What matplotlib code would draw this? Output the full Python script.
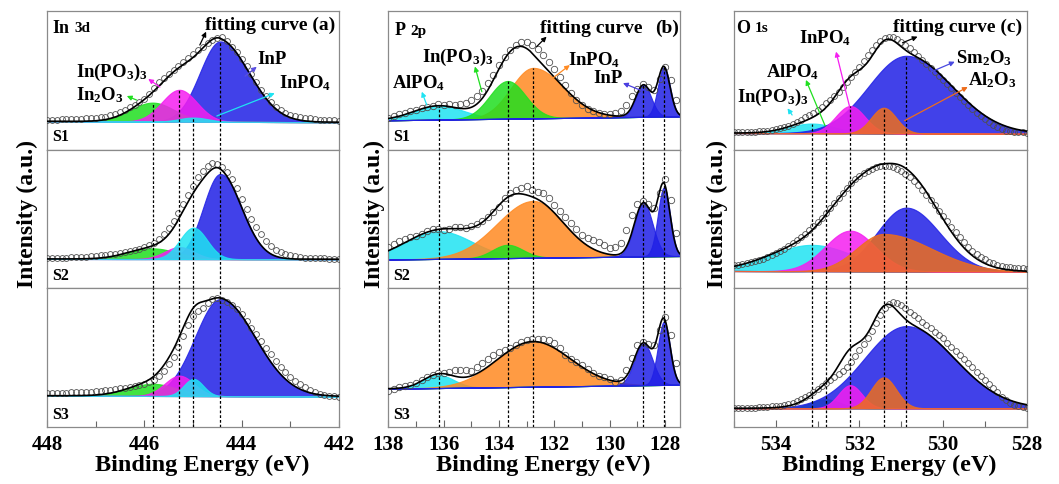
import numpy as np
import matplotlib.pyplot as plt
from matplotlib.ticker import MultipleLocator

plt.rcParams["font.family"] = ["Liberation Serif", "DejaVu Serif"]
plt.rcParams["font.weight"] = "bold"
plt.rcParams["mathtext.fontset"] = "custom"
plt.rcParams["mathtext.rm"] = "Liberation Serif:bold"
plt.rcParams["mathtext.it"] = "Liberation Serif:italic:bold"
plt.rcParams["mathtext.bf"] = "Liberation Serif:bold"
plt.rcParams["mathtext.default"] = "rm"

samples = ["S1", "S2", "S3"]

# ---------------- (a) In 3d ----------------
in3d_energy = np.round(np.arange(448.0, 441.95, -0.1), 2)
in3d_meas = {
    "S1": [.217, .217, .217, .218, .22, .221, .222, .223, .225, .227,
           .23, .234, .239, .247, .258, .271, .287, .305, .324, .345,
           .367, .405, .447, .487, .52, .548, .572, .602, .633, .663,
           .693, .718, .741, .767, .79, .806, .814, .785, .741, .702,
           .657, .603, .548, .489, .432, .385, .343, .31, .283, .264,
           .251, .242, .235, .229, .225, .221, .217, .216, .215, .212, .21],
    "S2": [.219, .219, .219, .22, .222, .223, .225, .227, .229, .231,
           .234, .238, .242, .246, .251, .257, .263, .269, .275, .285,
           .297, .31, .328, .355, .389, .435, .486, .545, .606, .675,
           .739, .8, .848, .882, .901, .898, .877, .84, .788, .72,
           .643, .57, .498, .44, .389, .342, .304, .28, .261, .247,
           .237, .23, .225, .221, .219, .218, .217, .216, .215, .215, .215],
    "S3": [.245, .245, .245, .246, .248, .249, .25, .251, .252, .254,
           .257, .26, .264, .269, .274, .278, .283, .289, .295, .303,
           .312, .322, .336, .365, .407, .452, .502, .575, .657, .735,
           .8, .835, .859, .895, .926, .93, .919, .903, .88, .85,
           .812, .766, .717, .669, .621, .573, .526, .478, .431, .395,
           .364, .334, .307, .287, .269, .254, .24, .231, .224, .22, .217],
}
in3d_names = [r"In$_2$O$_3$", r"In(PO$_3$)$_3$", r"InPO$_4$", "InP"]
in3d_center = [445.83, 445.28, 444.99, 444.44]
in3d_height = {"S1": [.137, .23, .03, .58], "S2": [.077, .087, .227, .614], "S3": [.088, .147, .124, .70]}
in3d_wl = {"S1": [.45, .36, .3, .42], "S2": [.5, .3, .28, .35], "S3": [.5, .3, .2, .52]}
in3d_wr = {"S1": [.45, .36, .3, .6], "S2": [.5, .3, .28, .44], "S3": [.5, .3, .2, .72]}
in3d_bg = {"S1": (.205, .198), "S2": (.212, .21), "S3": (.226, .22)}

# ---------------- (b) P 2p ----------------
p2p_energy = np.round(np.arange(138.0, 127.55, -0.2), 2)
p2p_meas = {
    "S1": [.228, .243, .255, .266, .279, .288, .298, .309, .318, .326,
           .322, .326, .325, .332, .34, .36, .384, .425, .48, .54,
           .607, .67, .72, .755, .78, .775, .758, .725, .68, .632,
           .583, .525, .468, .41, .36, .324, .296, .278, .265, .258,
           .259, .262, .278, .32, .385, .439, .475, .455, .432, .51,
           .595, .5, .36],
    "S2": [.297, .32, .338, .355, .372, .38, .395, .415, .425, .428,
           .423, .427, .44, .441, .438, .453, .463, .485, .518, .553,
           .589, .65, .69, .712, .725, .74, .712, .695, .684, .65,
           .6, .56, .517, .47, .425, .387, .36, .35, .333, .31,
           .29, .295, .33, .42, .53, .606, .628, .605, .58, .69,
           .788, .64, .4],
    "S3": [.259, .272, .285, .294, .303, .319, .342, .36, .378, .387,
           .39, .4, .408, .41, .41, .402, .43, .46, .488, .516,
           .538, .553, .572, .59, .61, .629, .632, .638, .636, .624,
           .605, .567, .522, .49, .47, .45, .421, .393, .37, .358,
           .343, .326, .34, .41, .5, .593, .615, .6, .59, .7,
           .795, .66, .46],
}
p2p_names = [r"AlPO$_4$", r"In(PO$_3$)$_3$", r"InPO$_4$", "InP", "InP"]
p2p_center = [136.18, 133.69, 132.77, 128.78, 128.04]
p2p_height = {"S1": [.10, .272, .364, .23, .355], "S2": [.2, .096, .41, .386, .496],
              "S3": [.093, 0.0, .326, .30, .456]}
p2p_wl = {"S1": [.9, .65, .8, .28, .22], "S2": [1.2, .55, 1.3, .33, .22], "S3": [.55, .5, 1.3, .33, .22]}
p2p_wr = {"S1": [.9, .65, 1.1, .28, .22], "S2": [1.2, .55, 1.1, .33, .22], "S3": [.55, .5, 1.35, .33, .22]}
p2p_bg = {"S1": (.212, .24), "S2": (.208, .233), "S3": (.276, .305)}

# ---------------- (c) O 1s ----------------
o1s_energy = np.round(np.arange(535.0, 527.95, -0.1), 2)
o1s_meas = {
    "S1": [.128, .129, .13, .13, .13, .131, .132, .134, .137, .141,
           .147, .153, .161, .172, .185, .199, .214, .232, .25, .268,
           .286, .31, .334, .36, .387, .417, .449, .485, .522, .56,
           .598, .64, .682, .72, .754, .782, .803, .812, .81, .797,
           .779, .756, .731, .703, .675, .647, .618, .59, .562, .532,
           .502, .472, .442, .412, .382, .352, .322, .294, .267, .242,
           .219, .197, .178, .161, .147, .138, .132, .128, .125, .124, .123],
    "S2": [.166, .17, .175, .181, .187, .195, .204, .213, .223, .237,
           .252, .268, .286, .305, .324, .345, .367, .393, .42, .45,
           .48, .51, .54, .577, .613, .65, .685, .722, .757, .786,
           .81, .83, .848, .862, .872, .879, .882, .879, .872, .861,
           .848, .828, .805, .777, .745, .71, .673, .637, .601, .561,
           .521, .482, .444, .405, .367, .332, .3, .272, .247, .227,
           .209, .193, .18, .17, .161, .155, .151, .148, .146, .144, .142],
    "S3": [.135, .135, .135, .136, .137, .139, .142, .144, .147, .149,
           .152, .155, .159, .166, .176, .187, .2, .215, .231, .25,
           .272, .293, .315, .336, .358, .381, .406, .436, .471, .512,
           .555, .597, .639, .69, .747, .805, .856, .89, .904, .897,
           .88, .857, .832, .808, .784, .76, .736, .712, .688, .664,
           .639, .609, .579, .549, .519, .489, .459, .43, .4, .37,
           .339, .309, .279, .249, .219, .195, .176, .162, .152, .143, .137],
}
o1s_names = [r"In(PO$_3$)$_3$", r"AlPO$_4$", r"InPO$_4$", r"Al$_2$O$_3$", r"Sm$_2$O$_3$"]
o1s_center = [533.14, 532.81, 532.22, 531.42, 530.88]
o1s_height = {"S1": [.07, .02, .197, .185, .56], "S2": [.19, .005, .293, .27, .46],
              "S3": [.01, .065, .167, .223, .593]}
o1s_wl = {"S1": [.55, .3, .35, .3, .9], "S2": [1.0, .3, .6, .65, .7], "S3": [.4, .35, .28, .3, 1.0]}
o1s_wr = {"S1": [.55, .3, .35, .3, 1.1], "S2": [1.0, .3, .6, 1.15, .8], "S3": [.4, .35, .28, .3, 1.15]}
o1s_bg = {"S1": (.12, .115), "S2": (.125, .12), "S3": (.135, .135)}

GREEN, MAGENTA, CYAN, BLUE = "#1fdf1f", "#f51ef0", "#1fe3f2", "#2020e6"
ORANGE, ORANGE_DARK = "#ff8a22", "#ee6d1c"

FIG_W, FIG_H = 1059, 484
TOP_PX, BOT_PX = 11, 427
SUB_H = (BOT_PX - TOP_PX) / 3
COL_PX = [(47, 339), (388.3, 680), (734, 1026.7)]
YLABEL_PX = [27.5, 374, 717]

fig = plt.figure(figsize=(FIG_W / 100, FIG_H / 100), dpi=100)


def component(e, c, h, wl, wr):
    # asymmetric gaussian, wl on the high binding energy side
    w = np.where(e > c, wl, wr)
    return h * np.exp(-0.5 * ((e - c) / w) ** 2)


def draw_column(col, energy, xlim, meas, center, height, wl, wr, bg, colors, order,
                ms=4.2, s_labels=True):
    x0, x1 = COL_PX[col]
    fine = np.linspace(xlim[1], xlim[0], 800)
    axes = []
    for k, s in enumerate(samples):
        y_top = TOP_PX + k * SUB_H
        ax = fig.add_axes([x0 / FIG_W, 1 - (y_top + SUB_H) / FIG_H, (x1 - x0) / FIG_W, SUB_H / FIG_H])
        base = np.interp(fine, [xlim[1], xlim[0]], [bg[s][1], bg[s][0]])
        comps = [component(fine, c, h, a, b) for c, h, a, b in zip(center, height[s], wl[s], wr[s])]
        for j in order:
            ax.fill_between(fine, base, base + comps[j], color=colors[j], alpha=0.85, lw=0.8, zorder=1)
        ax.plot(energy, meas[s], "o", mfc="none", mec="#505050", ms=ms, mew=0.6, zorder=3)
        ax.plot(fine, base + np.sum(comps, axis=0), color="k", lw=1.2, zorder=4)
        for j, c in enumerate(center):
            top = 1.0
            if k == 0:
                top = np.interp(c, [xlim[1], xlim[0]], [bg[s][1], bg[s][0]]) + height[s][j]
            ax.axvline(c, ymin=0, ymax=top, color="k", lw=0.9, ls=(0, (2.2, 1.6)), zorder=5)
        ax.set_xlim(xlim)
        ax.set_ylim(0, 1)
        ax.set_yticks([])
        for sp in ax.spines.values():
            sp.set_color("#8a8a8a")
            sp.set_linewidth(0.9)
        if s_labels:
            ax.text(0.018, 0.09, s, transform=ax.transAxes, fontsize=11.5, va="center", zorder=6)
        if k < 2:
            ax.set_xticks([])
        else:
            lo, hi = min(xlim), max(xlim)
            major = [t for t in np.arange(np.ceil(lo / 2) * 2, hi + 0.01, 2)]
            ax.set_xticks(major, labels=[f"{t:.0f}" for t in major], fontsize=15, fontweight="bold")
            ax.xaxis.set_minor_locator(MultipleLocator(1))
            ax.set_xlim(xlim)
            ax.tick_params(axis="x", which="both", direction="in", color="#666666", width=0.8, pad=6)
            ax.tick_params(axis="x", which="major", length=5)
            ax.tick_params(axis="x", which="minor", length=4)
            ax.set_xlabel("Binding Energy (eV)", fontsize=17.5, fontweight="bold")
            ax.xaxis.set_label_coords(0.53, -0.2)
        axes.append(ax)
    fig.text(YLABEL_PX[col] / FIG_W, 1 - 214 / FIG_H, "Intensity (a.u.)", rotation=90,
             fontsize=17, fontweight="bold", ha="center", va="center")
    return axes


def arrow(ax, tail, head, color):
    ax.annotate("", xy=head, xytext=tail,
                arrowprops=dict(arrowstyle="-|>", color=color, lw=0.9, mutation_scale=7,
                                shrinkA=0, shrinkB=0), zorder=7)


def core_level(ax, x, y, elem, orbital):
    t = ax.text(x, y, elem, fontsize=13, ha="left", va="center", zorder=7)
    ax.annotate(orbital, xy=(1, 0), xycoords=t, xytext=(3, 1), textcoords="offset points",
                fontsize=11, va="bottom", zorder=7)


# (a) In 3d
ax_a = draw_column(0, in3d_energy, (448, 442), in3d_meas, in3d_center, in3d_height, in3d_wl, in3d_wr,
                   in3d_bg, [GREEN, MAGENTA, CYAN, BLUE], [3, 0, 1, 2])[0]
core_level(ax_a, 447.88, 0.875, "In", "3d")
ax_a.text(443.42, 0.9, "fitting curve (a)", fontsize=14, ha="center", va="center")
arrow(ax_a, (444.86, 0.755), (444.73, 0.851), "k")
ax_a.text(443.38, 0.647, in3d_names[3], fontsize=13.5, ha="center", va="center")
arrow(ax_a, (443.93, 0.53), (443.69, 0.598), "#5a4fe0")
ax_a.text(442.7, 0.48, in3d_names[2], fontsize=13.5, ha="center", va="center")
arrow(ax_a, (444.51, 0.243), (443.32, 0.407), CYAN)
ax_a.text(446.66, 0.56, in3d_names[1], fontsize=13.5, ha="center", va="center")
arrow(ax_a, (445.68, 0.452), (445.92, 0.51), MAGENTA)
ax_a.text(446.91, 0.394, in3d_names[0], fontsize=13.5, ha="center", va="center")
arrow(ax_a, (446.16, 0.358), (446.36, 0.387), GREEN)

# (b) P 2p
ax_b = draw_column(1, p2p_energy, (138, 127.46), p2p_meas, p2p_center, p2p_height, p2p_wl, p2p_wr,
                   p2p_bg, [CYAN, GREEN, ORANGE, BLUE, BLUE], [0, 2, 1, 3, 4], ms=4.6)[0]
core_level(ax_b, 137.76, 0.86, "P", "2p")
ax_b.text(130.67, 0.877, "fitting curve", fontsize=14, ha="center", va="center")
ax_b.text(127.94, 0.877, "(b)", fontsize=14, ha="center", va="center")
arrow(ax_b, (132.64, 0.743), (132.28, 0.815), "k")
ax_b.text(135.5, 0.668, p2p_names[1], fontsize=13.5, ha="center", va="center")
arrow(ax_b, (134.62, 0.418), (134.87, 0.6), GREEN)
ax_b.text(130.57, 0.647, p2p_names[2], fontsize=13.5, ha="center", va="center")
arrow(ax_b, (132.05, 0.517), (131.44, 0.61), ORANGE)
ax_b.text(136.89, 0.48, p2p_names[0], fontsize=13.5, ha="center", va="center")
arrow(ax_b, (136.61, 0.322), (136.79, 0.418), CYAN)
ax_b.text(130.08, 0.51, p2p_names[3], fontsize=13.5, ha="center", va="center")
arrow(ax_b, (128.84, 0.425), (129.52, 0.48), "#4a3fe0")

# (c) O 1s
ax_c = draw_column(2, o1s_energy, (535, 528), o1s_meas, o1s_center, o1s_height, o1s_wl, o1s_wr,
                   o1s_bg, [CYAN, GREEN, MAGENTA, ORANGE_DARK, BLUE], [0, 1, 4, 2, 3], s_labels=False)[0]
core_level(ax_c, 534.95, 0.877, "O", "1s")
ax_c.text(529.65, 0.885, "fitting curve (c)", fontsize=14, ha="center", va="center")
arrow(ax_c, (530.97, 0.771), (530.61, 0.815), "k")
ax_c.text(532.82, 0.805, o1s_names[2], fontsize=13.5, ha="center", va="center")
arrow(ax_c, (532.24, 0.315), (532.56, 0.707), MAGENTA)
ax_c.text(529.01, 0.661, o1s_names[4], fontsize=13.5, ha="center", va="center")
arrow(ax_c, (530.28, 0.562), (529.72, 0.634), "#4a4ae0")
ax_c.text(533.61, 0.56, o1s_names[1], fontsize=13.5, ha="center", va="center")
arrow(ax_c, (532.82, 0.171), (533.28, 0.503), GREEN)
ax_c.text(528.82, 0.503, o1s_names[3], fontsize=13.5, ha="center", va="center")
arrow(ax_c, (530.92, 0.209), (529.41, 0.452), ORANGE_DARK)
ax_c.text(534.06, 0.38, o1s_names[0], fontsize=13.5, ha="center", va="center")
arrow(ax_c, (533.61, 0.25), (533.72, 0.298), CYAN)

fig.savefig("out.png", dpi=100)
